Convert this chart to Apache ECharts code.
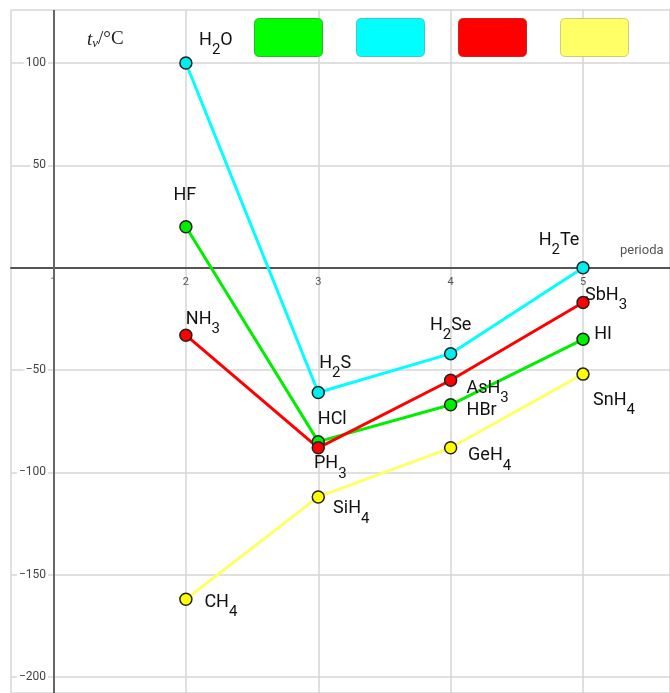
<!DOCTYPE html>
<html>
<head>
<meta charset="utf-8">
<script src="https://cdn.jsdelivr.net/npm/echarts@6/dist/echarts.min.js"></script>
<style>
html,body{margin:0;padding:0;background:#fff;}
#chart{width:670px;height:693px;}
</style>
</head>
<body>
<div id="chart"></div>
<script>
// ---- data ----
const periods = [2, 3, 4, 5];
const group17Names = ['HF', 'HCl', 'HBr', 'HI'];
const group17Values = [20, -85, -67, -35];
const group16Names = ['H2O', 'H2S', 'H2Se', 'H2Te'];
const group16Values = [100, -61, -42, 0];
const group15Names = ['NH3', 'PH3', 'AsH3', 'SbH3'];
const group15Values = [-33, -88, -55, -17];
const group14Names = ['CH4', 'SiH4', 'GeH4', 'SnH4'];
const group14Values = [-162, -112, -88, -52];
const xAxisName = 'perioda';
const yAxisTitle = ['t', 'v', '/°C'];

// ---- label placement (style only) ----
const offsets17 = [[-1, -31], [14, -22], [31, 6], [20, -5]];
const offsets16 = [[30, -23], [17, -29], [0, -28], [-24, -27]];
const offsets15 = [[17, -16], [12, 16], [37, 8], [23, -7]];
const offsets14 = [[35, 3], [33, 12], [39, 8], [31, 26]];

const richLabel = {
  s: { fontSize: 15, fontFamily: 'Roboto', color: '#111', padding: [20, 0, 0, 0] }
};
function formula(n) { return n.replace(/(\d)/g, '{s|$1}'); }

function makeSeries(name, names, values, offs, lineColor, fillColor) {
  return {
    name: name,
    type: 'line',
    symbol: 'circle',
    symbolSize: 12,
    lineStyle: { color: lineColor, width: 3 },
    itemStyle: { color: fillColor, borderColor: '#222', borderWidth: 1.5 },
    emphasis: { disabled: true },
    data: periods.map((p, i) => ({
      value: [p, values[i]],
      label: {
        show: true,
        position: 'inside',
        offset: offs[i],
        formatter: formula(names[i]),
        fontSize: 18,
        fontFamily: 'Roboto',
        color: '#111',
        rich: richLabel
      }
    })),
    z: 3
  };
}

const rrPath = 'path://M5,0 L63,0 Q68,0 68,5 L68,33 Q68,38 63,38 L5,38 Q0,38 0,33 L0,5 Q0,0 5,0 Z';

const series = [
  makeSeries('g17', group17Names, group17Values, offsets17, '#00ee00', '#00ee00'),
  makeSeries('g16', group16Names, group16Values, offsets16, '#00ffff', '#00eeee'),
  makeSeries('g15', group15Names, group15Values, offsets15, '#ff0000', '#ff0000'),
  makeSeries('g14', group14Names, group14Values, offsets14, '#ffff66', '#ffff00')
];
series[0].markLine = {
  silent: true,
  symbol: 'none',
  label: { show: false },
  lineStyle: { color: '#666', width: 2, type: 'solid' },
  data: [{ xAxis: 1 }],
  z: 2
};

const yMin = -207.8, yMax = 125.9;
const gridTop = 10, gridBottom = 0, chartH = 693;
const plotH = chartH - gridTop - gridBottom;
const zeroFromBottom = plotH * (0 - yMin) / (yMax - yMin);

const chart = echarts.init(document.getElementById('chart'));
chart.setOption({
  animation: false,
  backgroundColor: '#fff',
  title: {
    left: 82,
    top: 24,
    text: '{t|' + yAxisTitle[0] + '}{v|' + yAxisTitle[1] + '}{r|' + yAxisTitle[2] + '}',
    textStyle: {
      fontWeight: 'normal',
      rich: {
        t: { fontFamily: 'Liberation Serif', fontStyle: 'italic', fontWeight: 'normal', fontSize: 19, color: '#222' },
        v: { fontFamily: 'Liberation Serif', fontStyle: 'italic', fontWeight: 'normal', fontSize: 13, color: '#222', padding: [8, 0, 0, 0] },
        r: { fontFamily: 'Liberation Serif', fontWeight: 'normal', fontSize: 19, color: '#222' }
      }
    }
  },
  legend: {
    left: 254,
    top: 18,
    padding: 0,
    itemWidth: 68,
    itemHeight: 38,
    itemGap: 33,
    icon: rrPath,
    formatter: function () { return ''; },
    selectedMode: false,
    data: [
      { name: 'g17', itemStyle: { color: '#00ff00', borderColor: '#22bb22', borderWidth: 1 } },
      { name: 'g16', itemStyle: { color: '#00ffff', borderColor: '#33cccc', borderWidth: 1 } },
      { name: 'g15', itemStyle: { color: '#ff0000', borderColor: '#cc2222', borderWidth: 1 } },
      { name: 'g14', itemStyle: { color: '#ffff66', borderColor: '#cccc77', borderWidth: 1 } }
    ]
  },
  grid: { left: 11, top: gridTop, right: 0, bottom: gridBottom, containLabel: false, outerBoundsMode: 'none' },
  xAxis: {
    type: 'value',
    position: 'bottom',
    offset: -zeroFromBottom,
    min: 0.679,
    max: 5.657,
    minInterval: 1,
    maxInterval: 1,
    name: xAxisName,
    nameLocation: 'end',
    nameGap: -50,
    nameTextStyle: { color: '#555', fontSize: 13, fontFamily: 'Roboto', align: 'left', verticalAlign: 'bottom', padding: [0, 0, 10, 0] },
    axisLine: { onZero: false, lineStyle: { color: '#555', width: 2 } },
    axisTick: { show: false },
    axisLabel: { color: '#555', fontSize: 11, fontFamily: 'Roboto', margin: 9, showMinLabel: false, showMaxLabel: false },
    splitLine: { show: true, lineStyle: { color: '#d6d6d6', width: 1.5 } }
  },
  yAxis: {
    type: 'value',
    min: yMin,
    max: yMax,
    minInterval: 50,
    maxInterval: 50,
    axisLine: { show: false },
    axisTick: { show: false },
    axisLabel: {
      inside: true,
      align: 'right',
      margin: 37,
      color: '#444',
      fontSize: 12,
      fontFamily: 'Roboto',
      backgroundColor: '#fff',
      padding: [0, 2, 0, 2],
      showMinLabel: false,
      showMaxLabel: false,
      formatter: function (v) { return v === 0 ? '' : String(v).replace('-', '\u2212'); }
    },
    splitLine: { show: true, lineStyle: { color: '#d6d6d6', width: 1.5 } }
  },
  series: series
});
</script>
</body>
</html>
